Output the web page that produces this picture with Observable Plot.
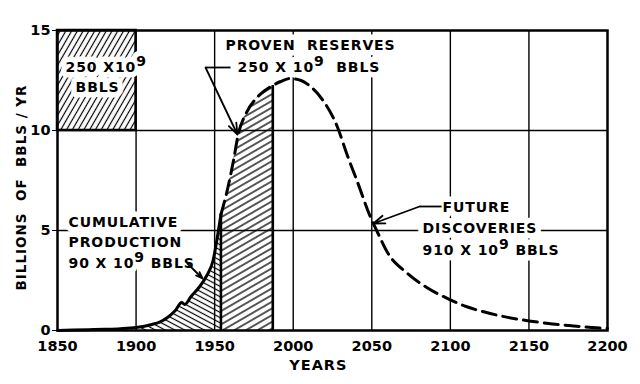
<!DOCTYPE html>
<html><head><meta charset="utf-8">
<script src="https://cdn.jsdelivr.net/npm/d3@7"></script>
<script src="https://cdn.jsdelivr.net/npm/@observablehq/plot@0.6"></script>
<style>body{margin:0;background:#fff} #chart svg{display:block}</style>
</head><body><div id="chart"></div>
<script>
// ---- data ----
const years = [1850,1860,1870,1880,1890,1900,1910,1915,1920,1925,1929,1931,1935,1940,1945,1949,1952,1954,1958,1962,1965,1970,1977,1982,1987,1992,1998,2005,2011,2019,2028,2034,2041,2049,2054,2060,2072,2085,2099,2110,2123,2135,2150,2165,2178,2190,2200];
const rates = [0.00,0.02,0.04,0.06,0.09,0.15,0.30,0.42,0.65,1.00,1.40,1.30,1.70,2.15,2.75,3.50,4.80,5.80,7.00,8.50,9.80,10.85,11.65,12.00,12.25,12.45,12.60,12.50,12.20,11.50,10.20,8.85,7.40,5.70,4.85,3.90,2.90,2.15,1.57,1.20,0.90,0.68,0.48,0.33,0.23,0.15,0.10];
const xTicks = [1850,1900,1950,2000,2050,2100,2150,2200];
const yTicks = [0,5,10,15];
const gridYears = [1900,1950,2000,2050,2100,2150];
const gridRates = [5,10];
const cumulativeSpan = [1900,1954];
const reservesSpan = [1954,1987];
const boxYears = [1850,1900];
const boxRates = [10,15];
// annotation texts (one entry per line) and their anchor in data units
const labelTexts = ["250 X10⁹","BBLS","PROVEN  RESERVES","250 X 10⁹  BBLS","CUMULATIVE","PRODUCTION","90 X 10⁹ BBLS","FUTURE","DISCOVERIES","910 X 10⁹ BBLS"];
const labelYears = [1855.1,1861.5,1956.9,1964.6,1857,1857,1857,2095,2082.3,2082.3];
const labelRates = [13.15,12.15,14.25,13.15,5.4,4.4,3.35,6.15,5.1,4.0];
const axisTitleX = "YEARS";
const axisTitleY = "BILLIONS  OF  BBLS / YR";
// leader lines and arrows (data units)
const leaderFrom = [[1960.1,13.15],[2094.4,6.2]];
const leaderTo   = [[1944.2,13.15],[2080.4,6.2]];
const arrowFrom  = [[1944.2,13.15],[1932.7,3.35],[2080.4,6.2]];
const arrowTo    = [[1964.5,9.8],[1942.3,2.6],[2051,5.35]];

// ---- tables ----
const curve = years.map((year,i)=>({year, rate:rates[i]}));
const rateAt = y => curve.find(d=>d.year===y).rate;
const cum = curve.filter(d=>d.year>=cumulativeSpan[0] && d.year<=cumulativeSpan[1]);
const res = curve.filter(d=>d.year>=reservesSpan[0] && d.year<=reservesSpan[1]);
const solid = curve.filter(d=>d.year<=cumulativeSpan[1]);
const dashed = curve.filter(d=>d.year>=cumulativeSpan[1]);
const edges = reservesSpan.map(y=>({year:y, rate:rateAt(y)}));
const labels = labelTexts.map((t,i)=>({t, x:labelYears[i], y:labelRates[i]}));
const leaders = leaderFrom.map((f,i)=>({x1:f[0],y1:f[1],x2:leaderTo[i][0],y2:leaderTo[i][1]}));
const arrows = arrowFrom.map((f,i)=>({x1:f[0],y1:f[1],x2:arrowTo[i][0],y2:arrowTo[i][1]}));

const FONT = "DejaVu Sans";
const lblOpts = {x:"x", y:"y", text:"t", textAnchor:"start", fontSize:14, fontFamily:FONT, fontWeight:"bold"};
const svg = Plot.plot({
  width:640, height:384,
  marginLeft:57, marginRight:33, marginTop:30, marginBottom:54,
  style:{fontFamily:FONT, fontWeight:"bold", background:"white", color:"black"},
  x:{domain:[1850,2200]},
  y:{domain:[0,15]},
  marks:[
    Plot.ruleX(gridYears,{stroke:"black", strokeWidth:1.4}),
    Plot.ruleY(gridRates,{stroke:"black", strokeWidth:1.6}),
    Plot.areaY(cum,{x:"year", y:"rate", fill:"url(#hatchCum)", curve:"monotone-x"}),
    Plot.areaY(res,{x:"year", y:"rate", fill:"url(#hatchRes)", curve:"monotone-x"}),
    Plot.rect([{}],{x1:()=>boxYears[0], x2:()=>boxYears[1], y1:()=>boxRates[0], y2:()=>boxRates[1], fill:"url(#hatchBox)", stroke:"black", strokeWidth:2.5}),
    Plot.ruleX(edges,{x:"year", y1:0, y2:"rate", stroke:"black", strokeWidth:2.6}),
    Plot.text(labels,{...lblOpts, fill:"white", stroke:"white", strokeWidth:11, className:"lbl"}),
    Plot.text(labels,{...lblOpts, fill:"black", className:"lbl"}),
    Plot.line(solid,{x:"year", y:"rate", stroke:"black", strokeWidth:3, curve:"monotone-x"}),
    Plot.line(dashed,{x:"year", y:"rate", stroke:"black", strokeWidth:3, strokeDasharray:"14 7", curve:"monotone-x"}),
    Plot.link(leaders,{x1:"x1",y1:"y1",x2:"x2",y2:"y2", stroke:"black", strokeWidth:1.8}),
    Plot.arrow(arrows,{x1:"x1",y1:"y1",x2:"x2",y2:"y2", stroke:"black", strokeWidth:1.8, headLength:10, headAngle:40}),
    Plot.frame({stroke:"black", strokeWidth:2.5}),
    Plot.axisX({ticks:xTicks, tickSize:0, tickPadding:10, tickFormat:"d", fontSize:14.5, label:null}),
    Plot.axisY({ticks:yTicks, tickSize:5, tickPadding:2, fontSize:14.5, label:null}),
    Plot.text([axisTitleX],{x:()=>2016, frameAnchor:"bottom", dy:39, fontSize:14.5, fontWeight:"bold", fontFamily:FONT, className:"ttl"}),
    Plot.text([axisTitleY],{x:()=>1827.5, y:()=>7.15, rotate:-90, fontSize:13.5, fontWeight:"bold", fontFamily:FONT, className:"ttl"})
  ]
});

d3.select(svg).insert("defs",":first-child").html(`
  <pattern id="hatchBox" patternUnits="userSpaceOnUse" width="12" height="5" patternTransform="rotate(-60)">
    <line x1="0" y1="2.5" x2="12" y2="2.5" stroke="black" stroke-width="1.2"/></pattern>
  <pattern id="hatchRes" patternUnits="userSpaceOnUse" width="12" height="5.8" patternTransform="rotate(-30)">
    <line x1="0" y1="2.9" x2="12" y2="2.9" stroke="black" stroke-width="1.3"/></pattern>
  <pattern id="hatchCum" patternUnits="userSpaceOnUse" width="12" height="4.6" patternTransform="rotate(28)">
    <line x1="0" y1="2.3" x2="12" y2="2.3" stroke="black" stroke-width="1.2"/></pattern>
`);

// superscript 9 in labels, slight letter spacing
d3.select(svg).selectAll("g.lbl text").each(function(){
  const el = d3.select(this).attr("letter-spacing", 0.9);
  const t = this.textContent;
  if (!t.includes("⁹")) return;
  const [a,b] = t.split("⁹");
  el.text(a);
  el.append("tspan").attr("dy",-6).text("9");
  el.append("tspan").attr("dy",6).text(b);
});
d3.select(svg).selectAll("g.ttl text").attr("letter-spacing", 1);

document.getElementById("chart").appendChild(svg);
</script>
</body></html>
